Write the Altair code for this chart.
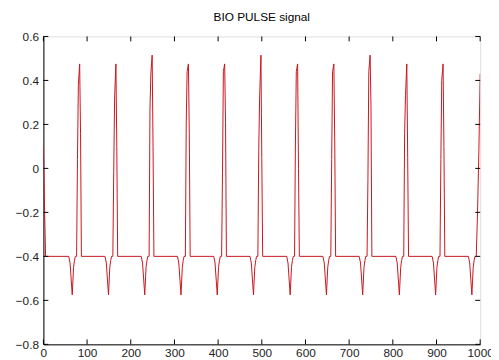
import altair as alt
import pandas as pd

# Breakpoints of the BIO PULSE signal (sample index, amplitude)
sample_x = [
    0, 3, 5,
    58, 61, 66, 69, 71, 73, 76, 78, 80, 83, 85, 87,
    141, 144, 149, 152, 154, 156, 159, 161, 163, 166, 168, 170,
    224, 227, 232, 235, 237, 239, 242, 244, 246, 249, 251, 253,
    307, 310, 315, 318, 320, 322, 325, 327, 329, 332, 334, 336,
    390, 393, 398, 401, 403, 405, 408, 410, 412, 415, 417, 419,
    473, 476, 481, 484, 486, 488, 491, 493, 495, 498, 500, 502,
    557, 560, 565, 568, 570, 572, 575, 577, 579, 582, 584, 586,
    640, 643, 648, 651, 653, 655, 658, 660, 662, 665, 667, 669,
    723, 726, 731, 734, 736, 738, 741, 743, 745, 748, 750, 752,
    807, 810, 815, 818, 820, 822, 825, 827, 829, 832, 834, 836,
    890, 893, 898, 901, 903, 905, 908, 910, 912, 915, 917, 919,
    973, 976, 981, 984, 986, 988, 991, 994, 997, 1000,
]
signal_y = [
    0.10, -0.22, -0.40,
    -0.40, -0.43, -0.575, -0.45, -0.42, -0.40, -0.40, 0.04, 0.38, 0.475, 0.16, -0.40,
    -0.40, -0.43, -0.575, -0.45, -0.42, -0.40, -0.40, -0.02, 0.32, 0.475, 0.10, -0.40,
    -0.40, -0.43, -0.575, -0.45, -0.42, -0.40, -0.40, 0.27, 0.43, 0.515, 0.10, -0.40,
    -0.40, -0.43, -0.575, -0.45, -0.42, -0.40, -0.40, 0.21, 0.44, 0.475, 0.16, -0.40,
    -0.40, -0.43, -0.575, -0.45, -0.42, -0.40, -0.40, -0.02, 0.44, 0.475, 0.21, -0.40,
    -0.40, -0.43, -0.575, -0.45, -0.42, -0.40, -0.40, 0.08, 0.32, 0.515, 0.05, -0.40,
    -0.40, -0.43, -0.575, -0.45, -0.42, -0.40, -0.40, 0.12, 0.44, 0.475, 0.00, -0.40,
    -0.40, -0.43, -0.575, -0.45, -0.42, -0.40, -0.40, 0.04, 0.44, 0.475, 0.12, -0.40,
    -0.40, -0.43, -0.575, -0.45, -0.42, -0.40, -0.40, -0.05, 0.44, 0.515, 0.28, -0.40,
    -0.40, -0.43, -0.575, -0.45, -0.42, -0.40, -0.40, 0.16, 0.33, 0.475, 0.05, -0.40,
    -0.40, -0.43, -0.575, -0.45, -0.42, -0.40, -0.40, 0.04, 0.40, 0.475, 0.10, -0.40,
    -0.40, -0.43, -0.575, -0.45, -0.42, -0.40, -0.40, -0.20, 0.08, 0.43,
]

x_ticks = [0, 100, 200, 300, 400, 500, 600, 700, 800, 900, 1000]
y_ticks = [-0.8, -0.6, -0.4, -0.2, 0, 0.2, 0.4, 0.6]

W, H = 444, 313
FONT = "Liberation Sans"

df = pd.DataFrame({"i": list(range(len(sample_x))), "x": sample_x, "y": signal_y})
xt = pd.DataFrame({"v": x_ticks})
yt = pd.DataFrame({"v": y_ticks})

xscale = alt.Scale(domain=[0, 1000], nice=False, zero=False)
yscale = alt.Scale(domain=[-0.8, 0.6], nice=False, zero=False)

line = alt.Chart(df).mark_line(color="#c8141c", strokeWidth=1, clip=True).encode(
    x=alt.X("x:Q", scale=xscale, axis=alt.Axis(
        values=x_ticks, title=None, grid=False, tickSize=0, labelPadding=3,
        labelFontSize=12, labelFont=FONT, labelColor="#222222",
        domainColor="#000000", labelFlush=False, format="d")),
    y=alt.Y("y:Q", scale=yscale, axis=alt.Axis(
        values=y_ticks, title=None, grid=False, tickSize=0, labelPadding=5,
        labelFontSize=12, labelFont=FONT, labelColor="#222222",
        domainColor="#000000", format=".1~f")),
    order="i:Q",
)

tick_color = "#000000"
xb = alt.Chart(xt).mark_rule(color=tick_color, strokeWidth=1).encode(
    x=alt.X("v:Q", scale=xscale), y=alt.value(H), y2=alt.value(H - 5))
xtop = alt.Chart(xt).mark_rule(color=tick_color, strokeWidth=1).encode(
    x=alt.X("v:Q", scale=xscale), y=alt.value(0), y2=alt.value(5))
yl = alt.Chart(yt).mark_rule(color=tick_color, strokeWidth=1).encode(
    y=alt.Y("v:Q", scale=yscale), x=alt.value(0), x2=alt.value(5))
yr = alt.Chart(yt).mark_rule(color=tick_color, strokeWidth=1).encode(
    y=alt.Y("v:Q", scale=yscale), x=alt.value(W), x2=alt.value(W - 5))

chart = alt.layer(line, xb, xtop, yl, yr).properties(
    width=W, height=H,
    title=alt.TitleParams("BIO PULSE signal", font=FONT, fontSize=12,
                          fontWeight="normal", color="#000000", offset=7),
    autosize="none",
    padding={"left": 36, "top": 26, "right": 11, "bottom": 13},
).configure_view(stroke="#000000", strokeWidth=1).configure(background="white")

chart.save("out.html", embed_options={"renderer": "svg", "actions": False})
